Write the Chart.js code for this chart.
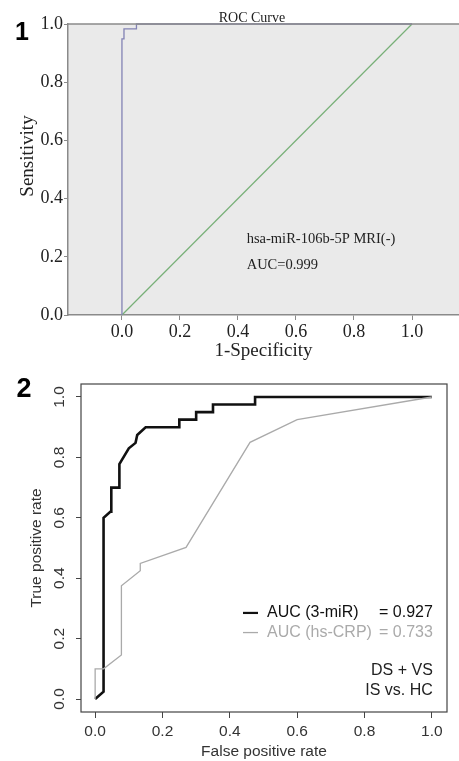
<!DOCTYPE html>
<html lang="en">
<head>
<meta charset="UTF-8">
<title>ROC curves</title>
<script src="https://cdn.jsdelivr.net/npm/chart.js"></script>
<style>
  body { margin: 0; background: #fff; width: 459px; height: 761px; position: relative; overflow: hidden; }
  .panel { position: absolute; left: 0; width: 459px; }
  #p1 { top: 0; height: 362px; }
  #p2 { top: 362px; height: 399px; }
</style>
</head>
<body>
<div class="panel" id="p1"><canvas id="roc1"></canvas></div>
<div class="panel" id="p2"><canvas id="roc2"></canvas></div>
<script>
// panel 1: hsa-miR-106b-5P, MRI(-)
const mriFpr = [0, 0, 0.007, 0.007, 0.05, 0.05, 1];
const mriTpr = [0, 0.949, 0.949, 0.983, 0.983, 1, 1];
const refLine = [0, 1];
const ticks1 = [0, 0.2, 0.4, 0.6, 0.8, 1.0];

// panel 2: 3-miR vs hs-CRP
const miRFpr = [0, 0.025, 0.025, 0.045, 0.048, 0.048, 0.072, 0.072, 0.1, 0.12, 0.125, 0.15, 0.25, 0.25, 0.3, 0.3, 0.35, 0.35, 0.475, 0.475, 1];
const miRTpr = [0, 0.024, 0.6, 0.62, 0.62, 0.7, 0.7, 0.778, 0.83, 0.848, 0.874, 0.9, 0.9, 0.925, 0.925, 0.95, 0.95, 0.975, 0.975, 1, 1];
const crpFpr = [0, 0, 0.025, 0.078, 0.078, 0.134, 0.134, 0.27, 0.46, 0.6, 1];
const crpTpr = [0, 0.1, 0.1, 0.146, 0.375, 0.425, 0.449, 0.502, 0.85, 0.925, 1];
const ticks2 = [0, 0.2, 0.4, 0.6, 0.8, 1.0];
const legendNames = ['AUC (3-miR)', 'AUC (hs-CRP)'];
const aucValues = [0.927, 0.733];
const groupLines = ['DS + VS', 'IS vs. HC'];

const SERIF = '"Liberation Serif", "Times New Roman", serif';
const SANS = '"Liberation Sans", Arial, sans-serif';

function pts(xs, ys) {
  return xs.map((x, i) => ({ x: x, y: ys[i] }));
}
function setTicks(list) {
  return scale => { scale.ticks = list.map(v => ({ value: v })); };
}

// ---------- panel 1 ----------
const panel1Deco = {
  id: 'panel1Deco',
  beforeDraw(chart) {
    const { ctx, chartArea: a } = chart;
    ctx.save();
    ctx.fillStyle = '#eaeaea';
    ctx.fillRect(a.left, a.top, a.right - a.left, a.bottom - a.top);
    ctx.restore();
  },
  afterDatasetsDraw(chart) {
    const { ctx, chartArea: a, scales } = chart;
    ctx.save();
    ctx.strokeStyle = '#8a8a8a';
    ctx.lineWidth = 1.5;
    ctx.beginPath();
    ctx.moveTo(a.left, a.top);
    ctx.lineTo(a.right, a.top);
    ctx.stroke();
  },
  afterDraw(chart) {
    const { ctx, scales } = chart;
    const x = scales.x, y = scales.y;
    ctx.save();
    ctx.fillStyle = '#222';
    ctx.textBaseline = 'middle';
    ctx.textAlign = 'center';
    ctx.font = '14px ' + SERIF;
    ctx.fillText('ROC Curve', 252, 18);
    ctx.textAlign = 'left';
    ctx.font = '14.5px ' + SERIF;
    ctx.fillText('hsa-miR-106b-5P MRI(-)', x.getPixelForValue(0.43), y.getPixelForValue(0.262));
    ctx.fillText('AUC=0.999', x.getPixelForValue(0.43), y.getPixelForValue(0.172));
    ctx.font = 'bold 25px ' + SANS;
    ctx.textAlign = 'center';
    ctx.fillStyle = '#000';
    ctx.fillText('1', 22, 33);
    ctx.translate(28, 156);
    ctx.rotate(-Math.PI / 2);
    ctx.fillStyle = '#222';
    ctx.font = '19px ' + SERIF;
    ctx.fillText('Sensitivity', 0, 0);
    ctx.restore();
  }
};

new Chart(document.getElementById('roc1'), {
  type: 'scatter',
  data: {
    datasets: [
      {
        data: pts(mriFpr, mriTpr),
        showLine: true, borderColor: '#8282b4', borderWidth: 1.3,
        pointRadius: 0, tension: 0, clip: 4
      },
      {
        data: pts(refLine, refLine),
        showLine: true, borderColor: '#78b078', borderWidth: 1.2,
        pointRadius: 0, tension: 0, clip: 4
      }
    ]
  },
  options: {
    responsive: true, maintainAspectRatio: false, animation: false,
    layout: { padding: { top: 24, left: 0, right: 0, bottom: 0 } },
    plugins: { legend: { display: false }, tooltip: { enabled: false } },
    scales: {
      x: {
        type: 'linear', min: -0.186, max: 1.162,
        afterBuildTicks: setTicks(ticks1),
        afterFit: s => { s.height = 47; },
        grid: { drawOnChartArea: false, tickLength: 5, color: '#8a8a8a' },
        border: { color: '#8a8a8a', width: 1.5 },
        ticks: { font: { family: SERIF, size: 18 }, color: '#222', padding: 1, maxRotation: 0,
                 callback: v => v.toFixed(1) },
        title: { display: true, text: '1-Specificity', font: { family: SERIF, size: 19 }, color: '#222',
                 padding: { top: 0, bottom: 0 } }
      },
      y: {
        type: 'linear', min: 0, max: 1,
        afterBuildTicks: setTicks(ticks1),
        afterFit: s => { s.width = 68; },
        grid: { drawOnChartArea: false, tickLength: 4, color: '#8a8a8a' },
        border: { color: '#8a8a8a', width: 1.5 },
        ticks: { font: { family: SERIF, size: 18 }, color: '#222', padding: 1,
                 callback: v => v.toFixed(1) }
      }
    }
  },
  plugins: [panel1Deco]
});

// ---------- panel 2 ----------
const panel2Deco = {
  id: 'panel2Deco',
  afterDraw(chart) {
    const { ctx, chartArea: a, scales } = chart;
    const x = scales.x, y = scales.y;
    ctx.save();
    // frame
    ctx.strokeStyle = '#444';
    ctx.lineWidth = 1.2;
    ctx.strokeRect(a.left, a.top, a.right - a.left, a.bottom - a.top);
    // rotated y tick labels
    ctx.fillStyle = '#333';
    ctx.font = '15.5px ' + SANS;
    ctx.textAlign = 'center';
    ctx.textBaseline = 'middle';
    y.ticks.forEach(t => {
      ctx.save();
      ctx.translate(60, y.getPixelForValue(t.value));
      ctx.rotate(-Math.PI / 2);
      ctx.fillText(t.value.toFixed(1), 0, 0);
      ctx.restore();
    });
    // legend
    const right = x.getPixelForValue(1) + 1;
    const rows = [y.getPixelForValue(0.285), y.getPixelForValue(0.22)];
    const colors = ['#111', '#aaa'];
    ctx.font = '16px ' + SANS;
    rows.forEach((ry, i) => {
      ctx.strokeStyle = colors[i];
      ctx.lineWidth = i === 0 ? 2.2 : 1.3;
      ctx.beginPath();
      ctx.moveTo(243, ry);
      ctx.lineTo(258, ry);
      ctx.stroke();
      ctx.fillStyle = colors[i];
      ctx.textAlign = 'left';
      ctx.fillText(legendNames[i], 267, ry);
      ctx.textAlign = 'right';
      ctx.fillText('= ' + aucValues[i].toFixed(3), right, ry);
    });
    ctx.fillStyle = '#222';
    ctx.textAlign = 'right';
    ctx.fillText(groupLines[0], right, y.getPixelForValue(0.093));
    ctx.fillText(groupLines[1], right, y.getPixelForValue(0.027));
    // panel label
    ctx.fillStyle = '#000';
    ctx.textAlign = 'center';
    ctx.font = 'bold 27px ' + SANS;
    ctx.fillText('2', 24, 28);
    ctx.restore();
  }
};

new Chart(document.getElementById('roc2'), {
  type: 'scatter',
  data: {
    datasets: [
      {
        data: pts(crpFpr, crpTpr),
        showLine: true, borderColor: '#aaaaaa', borderWidth: 1.3,
        pointRadius: 0, tension: 0
      },
      {
        data: pts(miRFpr, miRTpr),
        showLine: true, borderColor: '#111111', borderWidth: 2.6,
        pointRadius: 0, tension: 0
      }
    ]
  },
  options: {
    responsive: true, maintainAspectRatio: false, animation: false,
    layout: { padding: { top: 22, left: 0, right: 12, bottom: 0 } },
    plugins: { legend: { display: false }, tooltip: { enabled: false } },
    scales: {
      x: {
        type: 'linear', min: -0.042, max: 1.045,
        afterBuildTicks: setTicks(ticks2),
        afterFit: s => { s.height = 49; },
        grid: { drawOnChartArea: false, tickLength: 6, color: '#444' },
        border: { display: false },
        ticks: { font: { family: SANS, size: 15.5 }, color: '#333', padding: 4, maxRotation: 0,
                 callback: v => v.toFixed(1) },
        title: { display: true, text: 'False positive rate', font: { family: SANS, size: 15.5 }, color: '#333',
                 padding: { top: 0, bottom: 0 } }
      },
      y: {
        type: 'linear', min: -0.043, max: 1.043,
        afterBuildTicks: setTicks(ticks2),
        afterFit: s => { s.width = 81; },
        grid: { drawOnChartArea: false, tickLength: 5, color: '#444' },
        border: { display: false },
        ticks: { color: 'rgba(0,0,0,0)', font: { family: SANS, size: 15.5 }, callback: v => v.toFixed(1) },
        title: { display: true, text: 'True positive rate', font: { family: SANS, size: 15.5 }, color: '#333',
                 padding: { top: 27, bottom: 0 } }
      }
    }
  },
  plugins: [panel2Deco]
});
</script>
</body>
</html>
